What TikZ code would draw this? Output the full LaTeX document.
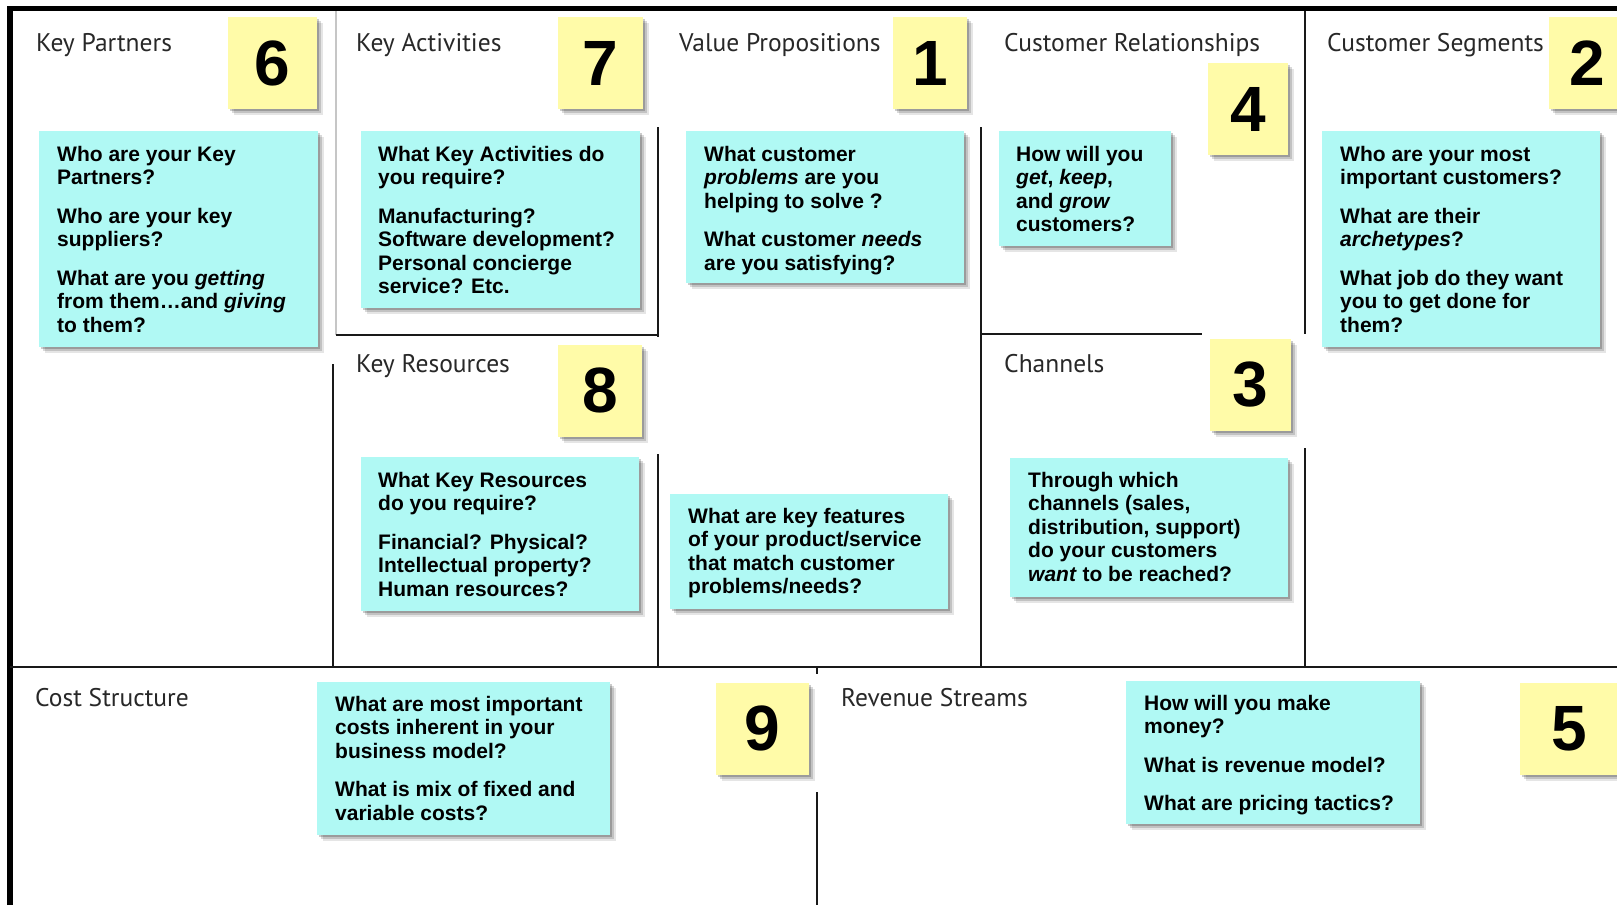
\documentclass[tikz,border=0pt]{standalone}
\usepackage{fontspec}
\usetikzlibrary{shadows}
\newfontfamily\qfont{Liberation Sans}
\newfontfamily\headfont{PT Sans}
\definecolor{notey}{RGB}{255,251,168}
\definecolor{qcyan}{RGB}{176,249,244}
\definecolor{headgray}{RGB}{40,40,40}

\begin{document}
\begin{tikzpicture}[x=1pt, y=-1pt,
    grid/.style={line width=2.6pt, black!90},
    soft/.style={drop shadow={shadow xshift=2pt, shadow yshift=-2pt, fill=black, opacity=.2},
                 drop shadow={shadow xshift=4pt, shadow yshift=-4pt, fill=black, opacity=.15},
                 drop shadow={shadow xshift=6pt, shadow yshift=-6pt, fill=black, opacity=.1}},
    head/.style={anchor=base west, inner sep=0pt, text=headgray, font=\headfont\fontsize{25.5}{30}\selectfont},
    qbox/.style={soft, fill=qcyan, anchor=north west, inner sep=0pt},
    qtext/.style={anchor=north west, inner sep=0pt, align=left, font=\qfont\bfseries\fontsize{21}{23.5}\selectfont},
    note/.style={soft, fill=notey, minimum height=92pt, inner sep=0pt, font=\qfont\bfseries\fontsize{64}{64}\selectfont}]

    \useasboundingbox (0,0) rectangle (1617,905);
    \clip (0,0) rectangle (1617,905);
    \fill[white] (0,0) rectangle (1617,905);

    % Frame
    \draw[line width=5.5pt] (10,905) -- (10,8.5) -- (1617,8.5);
    \draw[grid] (10,667) -- (1617,667);

    % Block borders
    \draw[gray!45, line width=1.5pt] (336,11) -- (336,335);
    \draw[grid] (333,364) -- (333,667);
    \draw[grid] (336,335) -- (658,335);
    \draw[grid] (658,127) -- (658,337);
    \draw[grid] (658,454) -- (658,667);
    \draw[grid] (981,127) -- (981,667);
    \draw[grid] (981,334) -- (1202,334);
    \draw[grid] (1305,11) -- (1305,334);
    \draw[grid] (1305,448) -- (1305,667);
    \draw[grid] (817,667) -- (817,674);
    \draw[grid] (817,792) -- (817,905);

    % Block titles
    \node[head] (kptitle) at (36,51) {Key Partners};
    \node[head] (katitle) at (356,51) {Key Activities};
    \node[head] (vptitle) at (679,51) {Value Propositions};
    \node[head] (crtitle) at (1004,51) {Customer Relationships};
    \node[head] (cstitle) at (1327,51) {Customer Segments};
    \node[head] (krtitle) at (356,372) {Key Resources};
    \node[head] (chtitle) at (1004,372) {Channels};
    \node[head] (costitle) at (35,706) {Cost Structure};
    \node[head] (revtitle) at (841,706) {Revenue Streams};

    % Question boxes
    \node[qbox, minimum width=279pt, minimum height=216pt] (kpbox) at (39,131) {};
    \node[qtext] (kptext) at ([xshift=18pt, yshift=-15pt]kpbox.north west)
        {Who are your Key\\Partners?\\[15pt]Who are your key\\suppliers?\\[15pt]What are you \textit{getting}\\from them…and \textit{giving}\\to them?};

    \node[qbox, minimum width=279pt, minimum height=177pt] (kabox) at (361,131) {};
    \node[qtext] (katext) at ([xshift=17pt, yshift=-15pt]kabox.north west)
        {What Key Activities do\\you require?\\[15pt]Manufacturing?\\Software development?\\Personal concierge\\service? Etc.};

    \node[qbox, minimum width=278pt, minimum height=152pt] (vpbox) at (686,131) {};
    \node[qtext] (vptext) at ([xshift=18pt, yshift=-15pt]vpbox.north west)
        {What customer\\\textit{problems} are you\\helping to solve ?\\[15pt]What customer \textit{needs}\\are you satisfying?};

    \node[qbox, minimum width=172pt, minimum height=115pt] (crbox) at (999,131) {};
    \node[qtext] (crtext) at ([xshift=17pt, yshift=-15pt]crbox.north west)
        {How will you\\\textit{get}, \textit{keep},\\and \textit{grow}\\customers?};

    \node[qbox, minimum width=278pt, minimum height=216pt] (csbox) at (1322,131) {};
    \node[qtext] (cstext) at ([xshift=18pt, yshift=-15pt]csbox.north west)
        {Who are your most\\important customers?\\[15pt]What are their\\\textit{archetypes}?\\[15pt]What job do they want\\you to get done for\\them?};

    \node[qbox, minimum width=278pt, minimum height=154pt] (krbox) at (361,457) {};
    \node[qtext] (krtext) at ([xshift=17pt, yshift=-15pt]krbox.north west)
        {What Key Resources\\do you require?\\[15pt]Financial? Physical?\\Intellectual property?\\Human resources?};

    \node[qbox, minimum width=278pt, minimum height=115pt] (vpbbox) at (670,494) {};
    \node[qtext] (vpbtext) at ([xshift=18pt, yshift=-14pt]vpbbox.north west)
        {What are key features\\of your product/service\\that match customer\\problems/needs?};

    \node[qbox, minimum width=278pt, minimum height=139pt] (chbox) at (1010,458) {};
    \node[qtext] (chtext) at ([xshift=18pt, yshift=-14pt]chbox.north west)
        {Through which\\channels (sales,\\distribution, support)\\do your customers\\\textit{want} to be reached?};

    \node[qbox, minimum width=293pt, minimum height=153pt] (cosbox) at (317,682) {};
    \node[qtext] (costext) at ([xshift=18pt, yshift=-14pt]cosbox.north west)
        {What are most important\\costs inherent in your\\business model?\\[15pt]What is mix of fixed and\\variable costs?};

    \node[qbox, minimum width=294pt, minimum height=143pt] (revbox) at (1126,681) {};
    \node[qtext] (revtext) at ([xshift=18pt, yshift=-14pt]revbox.north west)
        {How will you make\\money?\\[15pt]What is revenue model?\\[15pt]What are pricing tactics?};

    % Numbered notes
    \node[note, minimum width=89pt] (n6) at (272.5,63) {6};
    \node[note, minimum width=85pt] (n7) at (600.5,63) {7};
    \node[note, minimum width=74pt] (n1) at (930,63) {1};
    \node[note, minimum width=80pt] (n4) at (1248,109) {4};
    \node[note, minimum width=76pt] (n2) at (1587,63) {2};
    \node[note, minimum width=84pt] (n8) at (600,390.5) {8};
    \node[note, minimum width=81pt] (n3) at (1250.5,384.5) {3};
    \node[note, minimum width=93pt] (n9) at (762.5,728.5) {9};
    \node[note, minimum width=98pt] (n5) at (1569,728.5) {5};

\end{tikzpicture}
\end{document}
